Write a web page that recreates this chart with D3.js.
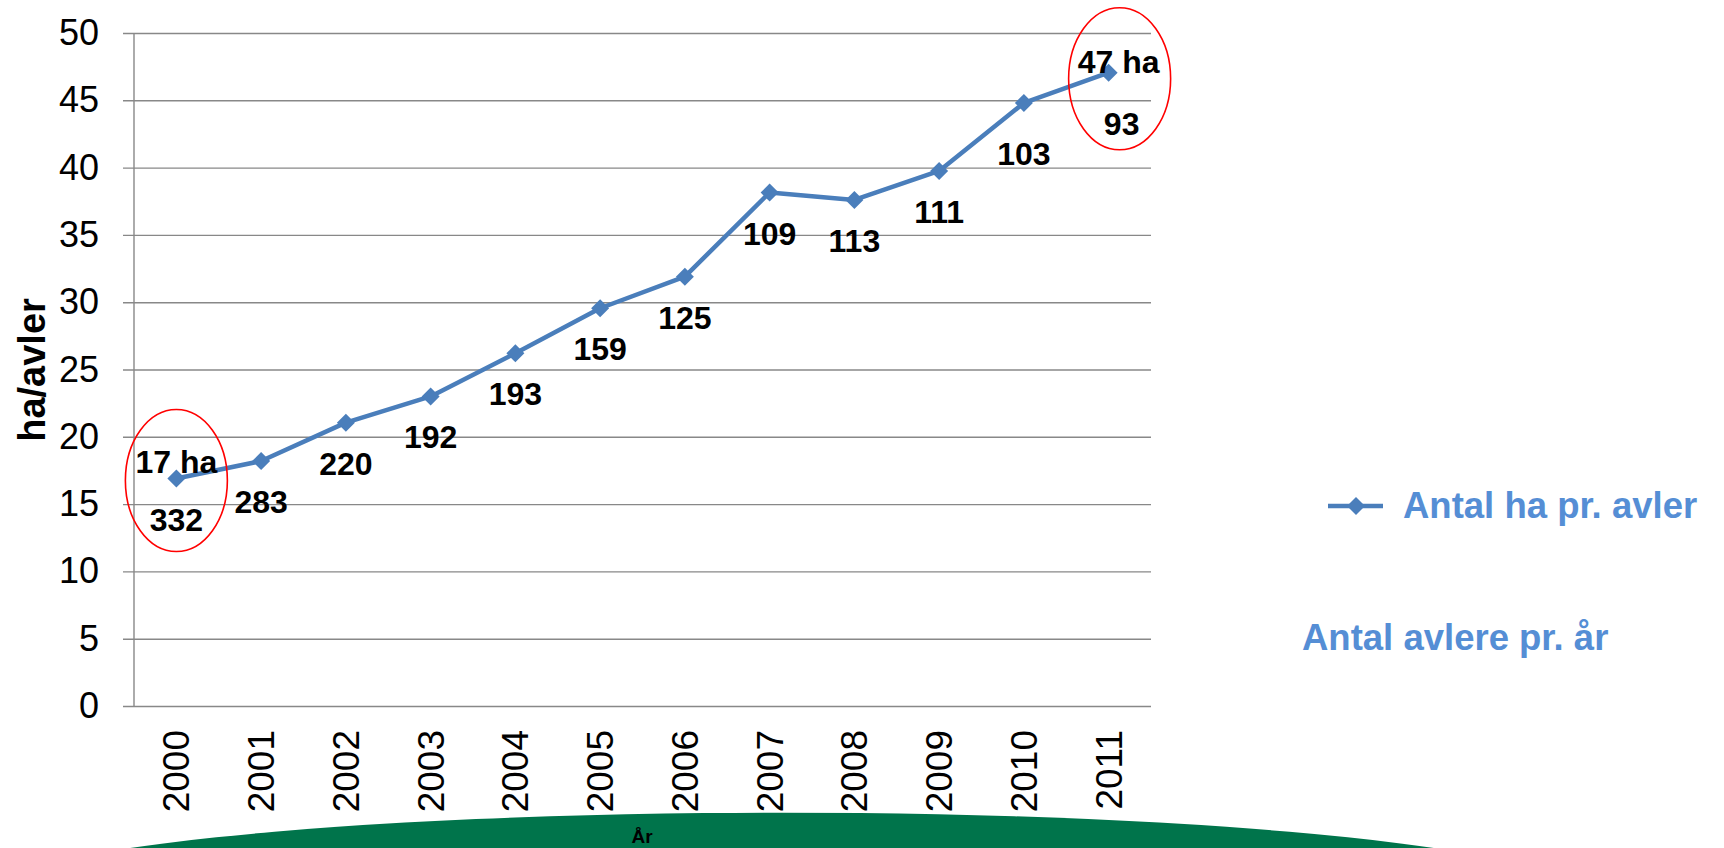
<!DOCTYPE html>
<html>
<head>
<meta charset="utf-8">
<script src="https://cdn.jsdelivr.net/npm/d3@7"></script>
<style>
  body { margin: 0; background: #fff; }
  text { font-family: "Liberation Sans", Arial, sans-serif; }
</style>
</head>
<body>
<svg id="chart"></svg>
<script>
// data
var years = [2000, 2001, 2002, 2003, 2004, 2005, 2006, 2007, 2008, 2009, 2010, 2011];
var haPerGrower = [16.9, 18.2, 21.05, 23.0, 26.2, 29.55, 31.9, 38.15, 37.6, 39.75, 44.8, 47.05];
var growers = [332, 283, 220, 192, 193, 159, 125, 109, 113, 111, 103, 93];
var yTicks = [0, 5, 10, 15, 20, 25, 30, 35, 40, 45, 50];

var seriesName = "Antal ha pr. avler";
var growersName = "Antal avlere pr. år";
var yTitle = "ha/avler";
var xTitle = "År";

var width = 1724, height = 848;
var margin = { top: 33, right: 573, bottom: 142, left: 134 };
var blue = "#4a7ebb";
var labelBlue = "#558ed5";

var data = years.map(function(y, i) {
  return { year: y, ha: haPerGrower[i], count: growers[i] };
});

var svg = d3.select("#chart")
  .attr("width", width)
  .attr("height", height);

var x = d3.scaleBand()
  .domain(years)
  .range([margin.left, width - margin.right]);

var y = d3.scaleLinear()
  .domain([0, 50])
  .range([height - margin.bottom, margin.top]);

var plotRight = width - margin.right;

// green background arc at the bottom
svg.append("ellipse")
  .attr("cx", 782)
  .attr("cy", 812.7 + 84)
  .attr("rx", 800)
  .attr("ry", 84)
  .attr("fill", "#00744b");

// gridlines + y labels
var yAxis = d3.axisLeft(y)
  .tickValues(yTicks)
  .tickSize(plotRight - margin.left + 11)
  .tickPadding(24);

var gy = svg.append("g")
  .attr("transform", "translate(" + plotRight + ",0)")
  .call(yAxis);
gy.select(".domain").remove();
gy.selectAll("line").attr("stroke", "#888").attr("stroke-width", 1.4);
gy.selectAll("text")
  .attr("font-size", 36)
  .attr("fill", "#000")
  .style("font-family", "'Liberation Sans', Arial, sans-serif");

// vertical axis line
svg.append("line")
  .attr("x1", margin.left).attr("x2", margin.left)
  .attr("y1", y(50)).attr("y2", y(0))
  .attr("stroke", "#888").attr("stroke-width", 1.4);

// x axis labels
var gx = svg.append("g")
  .attr("transform", "translate(0," + y(0) + ")")
  .call(d3.axisBottom(x).tickSize(0));
gx.select(".domain").remove();
gx.selectAll("text")
  .attr("transform", "rotate(-90)")
  .attr("x", -24)
  .attr("y", 0)
  .attr("dy", "0.35em")
  .attr("text-anchor", "end")
  .attr("font-size", 37)
  .attr("fill", "#000")
  .style("font-family", "'Liberation Sans', Arial, sans-serif");

// axis titles
svg.append("text")
  .attr("transform", "translate(45,370) rotate(-90)")
  .attr("text-anchor", "middle")
  .attr("font-size", 38)
  .attr("font-weight", "bold")
  .text(yTitle);

svg.append("text")
  .attr("x", 642)
  .attr("y", 843)
  .attr("text-anchor", "middle")
  .attr("font-size", 19)
  .attr("font-weight", "bold")
  .text(xTitle);

// line
var cx = function(d) { return x(d.year) + x.bandwidth() / 2; };

svg.append("path")
  .datum(data)
  .attr("fill", "none")
  .attr("stroke", blue)
  .attr("stroke-width", 4.5)
  .attr("stroke-linejoin", "round")
  .attr("d", d3.line().x(cx).y(function(d) { return y(d.ha); }));

var diamond = d3.symbol().type(d3.symbolSquare).size(162);

svg.selectAll(".marker")
  .data(data)
  .enter().append("path")
  .attr("class", "marker")
  .attr("d", diamond)
  .attr("fill", blue)
  .attr("transform", function(d) {
    return "translate(" + cx(d) + "," + y(d.ha) + ") rotate(45)";
  });

// grower counts below points
svg.selectAll(".count")
  .data(data)
  .enter().append("text")
  .attr("class", "count")
  .attr("text-anchor", "middle")
  .attr("font-size", 32)
  .attr("font-weight", "bold")
  .attr("x", function(d, i) { return cx(d) + (i === data.length - 1 ? 13 : 0); })
  .attr("y", function(d) { return y(d.ha) + (d.year >= 2010 ? 62 : 52); })
  .text(function(d) { return d.count; });

// highlighted first / last values
var first = data[0], last = data[data.length - 1];

svg.append("text")
  .attr("x", cx(first))
  .attr("y", y(first.ha) - 6)
  .attr("text-anchor", "middle")
  .attr("font-size", 32)
  .attr("font-weight", "bold")
  .text(Math.round(first.ha) + " ha");

svg.append("text")
  .attr("x", cx(last) + 10)
  .attr("y", y(last.ha))
  .attr("text-anchor", "middle")
  .attr("font-size", 32)
  .attr("font-weight", "bold")
  .text(Math.round(last.ha) + " ha");

svg.append("ellipse")
  .attr("cx", cx(first))
  .attr("cy", y(first.ha) + 2)
  .attr("rx", 51).attr("ry", 71)
  .attr("fill", "none")
  .attr("stroke", "#ff0000")
  .attr("stroke-width", 1.6);

svg.append("ellipse")
  .attr("cx", cx(last) + 11)
  .attr("cy", y(last.ha) + 6)
  .attr("rx", 51).attr("ry", 71)
  .attr("fill", "none")
  .attr("stroke", "#ff0000")
  .attr("stroke-width", 1.6);

// legend
var legend = svg.append("g").attr("transform", "translate(1328,506)");
legend.append("line")
  .attr("x1", 0).attr("x2", 55)
  .attr("stroke", blue).attr("stroke-width", 4.5);
legend.append("path")
  .attr("d", diamond)
  .attr("fill", blue)
  .attr("transform", "translate(28,0) rotate(45)");
legend.append("text")
  .attr("x", 75)
  .attr("y", 12)
  .attr("font-size", 36.5)
  .attr("font-weight", "bold")
  .attr("fill", labelBlue)
  .text(seriesName);

svg.append("text")
  .attr("x", 1302)
  .attr("y", 650)
  .attr("font-size", 36.5)
  .attr("font-weight", "bold")
  .attr("fill", labelBlue)
  .text(growersName);
</script>
</body>
</html>
